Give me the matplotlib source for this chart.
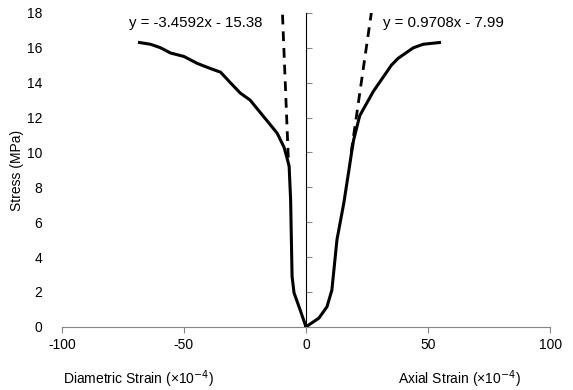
import numpy as np
import matplotlib
matplotlib.use("Agg")
import matplotlib.pyplot as plt

plt.rcParams['font.family'] = ['Liberation Sans', 'DejaVu Sans']
plt.rcParams['axes.unicode_minus'] = False

# diametric strain branch (negative side), x in 1e-4, stress in MPa
diam_strain = [0, -2.4, -4.9, -5.7, -6.3, -6.9, -7.8, -9.0, -11.8, -14.7, -18.8, -22.9,
               -26.9, -31.0, -35.0, -39.0, -44.5, -50.0, -55.5, -59.6, -63.7, -68.2]
diam_stress = [0, 0.97, 1.95, 2.9, 7.3, 9.2, 9.7, 10.3, 11.1, 11.6, 12.3, 13.0,
               13.4, 14.0, 14.6, 14.8, 15.1, 15.5, 15.7, 16.0, 16.2, 16.3]

# axial strain branch
axial_strain = [0, 5.3, 8.6, 10.6, 12.7, 15.5, 17.6, 18.8, 19.5, 22.0, 27.6, 35.0,
                37.8, 44.0, 48.0, 54.7]
axial_stress = [0, 0.5, 1.15, 2.1, 5.0, 7.1, 9.0, 10.1, 10.7, 12.1, 13.5, 15.0,
                15.4, 16.0, 16.2, 16.3]

# linear trendlines shown on the chart: (slope, intercept, stress range)
diam_fit = (-3.4592, -15.38, (9.7, 18.0))
axial_fit = (0.9708, -7.99, (10.0, 18.0))

fig = plt.figure(figsize=(5.73, 3.90), dpi=100)
ax = fig.add_axes([0.108, 0.162, 0.852, 0.805])

ax.plot(diam_strain, diam_stress, color='black', lw=2.2, solid_joinstyle='round')
ax.plot(axial_strain, axial_stress, color='black', lw=2.2, solid_joinstyle='round')

for slope, icpt, yr in (diam_fit, axial_fit):
    ys = np.array(yr)
    xs = (ys - icpt) / slope
    ax.plot(xs, ys, color='black', lw=2, linestyle=(0, (3.5, 2.5)))

ax.set_xlim(-100, 100)
ax.set_ylim(0, 18)
ax.set_xticks([-100, -50, 0, 50, 100])
ax.set_yticks(range(0, 19, 2))

for s in ['top', 'right', 'left']:
    ax.spines[s].set_visible(False)
ax.spines['bottom'].set_color('#868686')
ax.tick_params(axis='x', colors='#868686', labelcolor='black', length=4, labelsize=10, pad=4)
ax.tick_params(axis='y', length=0, labelsize=10, pad=14)

# vertical axis drawn through zero strain
sec = ax.secondary_yaxis(0.5)
sec.set_yticks(range(0, 19, 2))
sec.tick_params(axis='y', colors='#868686', length=4, labelleft=False)
sec.set_yticklabels([])
sec.spines['left'].set_color('#868686')

fig.text(0.03, 0.564, 'Stress (MPa)', fontsize=10, rotation=90, ha='center', va='center')

fig.text(0.11, 0.015, 'Diametric Strain (×10$^{-4}$)', fontsize=10)
fig.text(0.695, 0.015, 'Axial Strain (×10$^{-4}$)', fontsize=10)

ax.text(-72.5, 17.4, 'y = -3.4592x - 15.38', fontsize=10.8, va='center')
ax.text(31.5, 17.4, 'y = 0.9708x - 7.99', fontsize=10.8, va='center')

fig.savefig('out.png', dpi=100)
